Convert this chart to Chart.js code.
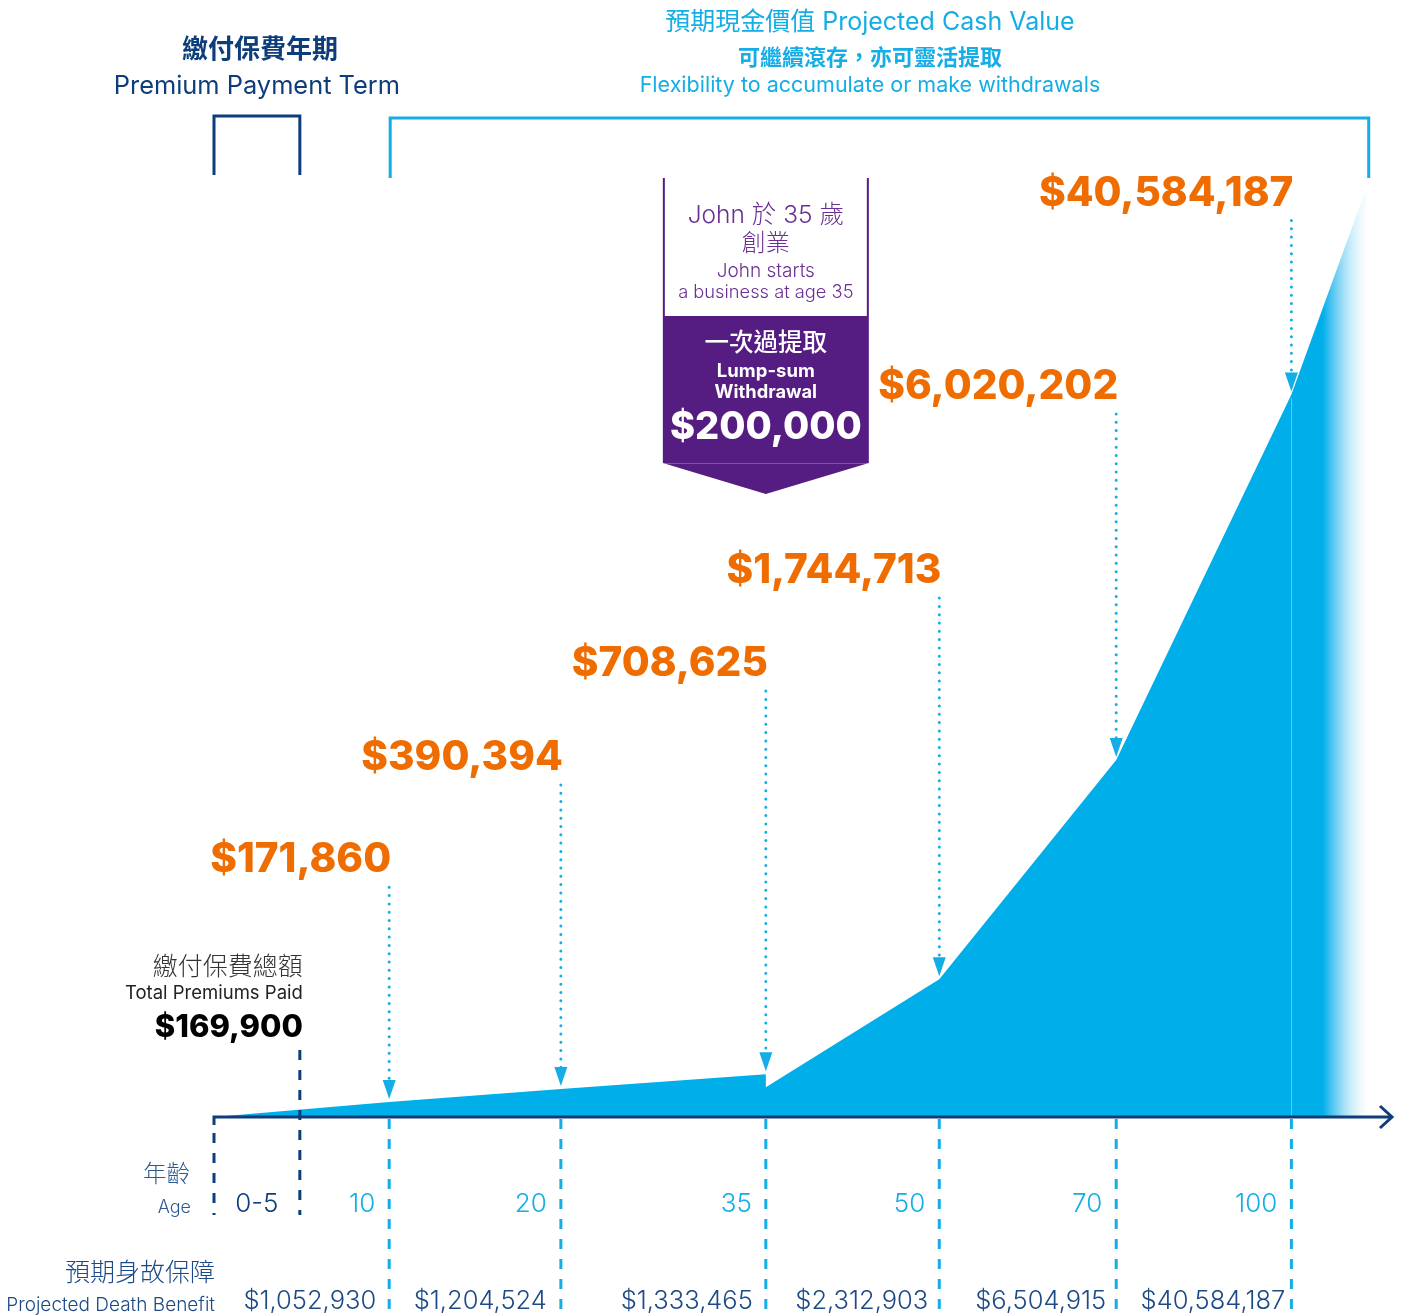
<!DOCTYPE html>
<html>
<head>
<meta charset="utf-8">
<script src="https://cdn.jsdelivr.net/npm/chart.js@4"></script>
<style>
  body { margin: 0; background: #fff; overflow: hidden; }
  canvas { display: block; }
</style>
</head>
<body>
<canvas id="myChart" width="1405" height="1315"></canvas>
<script>
// ages on the x axis and where they sit (the axis is not to scale)
const ages = [0, 5, 10, 20, 35, 50, 70, 100];
const ageSlots = [0, 0.49, 1, 1.98, 3.15, 4.14, 5.15, 6.15];
const ageLabels = ['0-5', '10', '20', '35', '50', '70', '100'];

// projected cash value at ages 10..100
const cashValues = [171860, 390394, 708625, 1744713, 6020202, 40584187];
// projected death benefit, one per age column
const deathBenefits = [1052930, 1204524, 1333465, 2312903, 6504915, 40584187];
const totalPremiums = 169900;
const withdrawalAmount = 200000;
const withdrawalAge = 35;

// drawn height of the cash value curve (% of plot) at ages 0,10,20,35,50,70,100
const curveHeights = [0, 1.6, 3.0, 4.6, 14.8, 38.4, 77.7];
const heightAfterWithdrawal = 3.2;
const curveEnd = { x: 6.58, y: 100 };

const NAVY = '#0e3d7b';
const BLUE = '#14ade6';
const AREA = '#00afea';
const ORANGE = '#ef6d00';
const PURPLE = '#551c82';
const SANS = 'Inter, "Noto Sans CJK TC", sans-serif';

const slotOf = age => ageSlots[ages.indexOf(age)];
const fmt = n => '$' + n.toLocaleString('en-US');

// build the curve points
const curveAges = [0, 10, 20, 35, 50, 70, 100];
const curvePoints = [];
curveAges.forEach((age, i) => {
  curvePoints.push({ x: slotOf(age), y: curveHeights[i] });
  if (age === withdrawalAge) {
    curvePoints.push({ x: slotOf(age), y: heightAfterWithdrawal });
  }
});
curvePoints.push(curveEnd);

// where the orange callouts sit (y units) - layout only
const calloutLevels = [27.6, 38.6, 48.7, 58.7, 78.5, 99.3];

function text(ctx, str, x, y, font, color, align) {
  ctx.font = font;
  ctx.fillStyle = color;
  ctx.textAlign = align || 'left';
  ctx.textBaseline = 'middle';
  ctx.fillText(str, x, y);
}

function vline(ctx, x, y1, y2, color, width, dash, cap) {
  ctx.save();
  ctx.strokeStyle = color;
  ctx.lineWidth = width;
  ctx.setLineDash(dash || []);
  ctx.lineCap = cap || 'butt';
  ctx.beginPath();
  ctx.moveTo(x, y1);
  ctx.lineTo(x, y2);
  ctx.stroke();
  ctx.restore();
}

const decorations = {
  id: 'decorations',
  afterDatasetsDraw(chart) {
    const ctx = chart.ctx;
    const xs = chart.scales.x, ys = chart.scales.y;
    const X = v => xs.getPixelForValue(v);
    const Y = v => ys.getPixelForValue(v);
    const base = Y(0);
    const bottom = chart.height;

    ctx.save();

    // faint line inside the area at age 100
    vline(ctx, Math.round(X(slotOf(100))) + 0.5, Y(curveHeights[6]) + 4, base, 'rgba(255,255,255,0.35)', 1);

    // axis with arrow
    ctx.strokeStyle = NAVY;
    ctx.lineWidth = 3;
    ctx.beginPath();
    ctx.moveTo(X(0), base + 8);
    ctx.lineTo(X(0), base);
    ctx.lineTo(chart.chartArea.right - 1, base);
    ctx.stroke();
    ctx.beginPath();
    ctx.moveTo(chart.chartArea.right - 13, base - 11);
    ctx.lineTo(chart.chartArea.right - 1, base);
    ctx.lineTo(chart.chartArea.right - 13, base + 11);
    ctx.stroke();

    // dark dashed lines for 0 and 5
    vline(ctx, X(0), base + 16, base + 98, NAVY, 3, [10, 10]);
    vline(ctx, X(slotOf(5)), base - 67, base + 98, NAVY, 3, [10, 10]);

    // light dashed guides below the axis
    [10, 20, 35, 50, 70, 100].forEach(age => {
      vline(ctx, X(slotOf(age)), base + 2, bottom, BLUE, 3, [10, 10]);
    });

    // age labels and death benefits
    const benefitGap = [13, 14, 13, 11, 10, 6];
    text(ctx, ageLabels[0], (X(0) + X(slotOf(5))) / 2, base + 87, '300 26px ' + SANS, NAVY, 'center');
    [10, 20, 35, 50, 70, 100].forEach((age, i) => {
      text(ctx, ageLabels[i + 1], X(slotOf(age)) - 14, base + 87, '300 26px ' + SANS, BLUE, 'right');
      text(ctx, fmt(deathBenefits[i]), X(slotOf(age)) - benefitGap[i], base + 184, '300 25.5px ' + SANS, '#1c4a86', 'right');
    });
    text(ctx, '年齡', 190, base + 58, '300 23.5px ' + SANS, '#2a5a92', 'right');
    text(ctx, 'Age', 191, base + 91, '300 18px ' + SANS, '#2a5a92', 'right');
    text(ctx, '預期身故保障', 215, base + 156, '300 25px ' + SANS, '#1c4a86', 'right');
    text(ctx, 'Projected Death Benefit', 215, base + 188, '300 19px ' + SANS, '#1c4a86', 'right');

    // total premiums
    const px = X(slotOf(5)) + 3;
    text(ctx, '繳付保費總額', px, base - 150, '300 25px ' + SANS, '#333', 'right');
    text(ctx, 'Total Premiums Paid', px, base - 124, '18.5px ' + SANS, '#222', 'right');
    text(ctx, fmt(totalPremiums), px, base - 89, '800 31px ' + SANS, '#000', 'right');

    // orange callouts with dotted arrows
    [10, 20, 35, 50, 70, 100].forEach((age, i) => {
      const x = X(slotOf(age));
      const ly = Y(calloutLevels[i]);
      text(ctx, fmt(cashValues[i]), x + 2, ly, '800 40.5px ' + SANS, ORANGE, 'right');
      const tip = Y(curveHeights[i + 1]) - 3;
      vline(ctx, x, ly + 27, tip - 16, BLUE, 3, [0, 8.3], 'round');
      ctx.fillStyle = BLUE;
      ctx.beginPath();
      ctx.moveTo(x - 6.5, tip - 19);
      ctx.lineTo(x + 6.5, tip - 19);
      ctx.lineTo(x, tip);
      ctx.closePath();
      ctx.fill();
    });

    // brackets
    ctx.lineWidth = 3;
    ctx.strokeStyle = NAVY;
    ctx.beginPath();
    ctx.moveTo(X(0), 175);
    ctx.lineTo(X(0), 116);
    ctx.lineTo(X(slotOf(5)), 116);
    ctx.lineTo(X(slotOf(5)), 175);
    ctx.stroke();
    ctx.strokeStyle = BLUE;
    ctx.beginPath();
    ctx.moveTo(X(slotOf(10)) + 1, 178);
    ctx.lineTo(X(slotOf(10)) + 1, 118);
    ctx.lineTo(X(curveEnd.x) + 2, 118);
    ctx.lineTo(X(curveEnd.x) + 2, 178);
    ctx.stroke();

    // headers
    const lc = (X(0) + X(slotOf(5))) / 2;
    text(ctx, '繳付保費年期', lc + 3, 50, 'bold 26px ' + SANS, NAVY, 'center');
    text(ctx, 'Premium Payment Term', lc, 86, '25.4px ' + SANS, NAVY, 'center');
    const rc = (X(slotOf(10)) + X(curveEnd.x)) / 2 - 8;
    text(ctx, '預期現金價值 Projected Cash Value', rc, 22, '25px ' + SANS, BLUE, 'center');
    text(ctx, '可繼續滾存，亦可靈活提取', rc, 58, 'bold 22px ' + SANS, BLUE, 'center');
    text(ctx, 'Flexibility to accumulate or make withdrawals', rc, 86, '21.5px ' + SANS, BLUE, 'center');

    // withdrawal tag at age 35
    const cx = X(slotOf(withdrawalAge));
    const l = cx - 103, r = cx + 103;
    ctx.fillStyle = PURPLE;
    ctx.beginPath();
    ctx.moveTo(l, 316);
    ctx.lineTo(r, 316);
    ctx.lineTo(r, 463);
    ctx.lineTo(cx, 494);
    ctx.lineTo(l, 463);
    ctx.closePath();
    ctx.fill();
    ctx.strokeStyle = 'rgba(255,255,255,0.25)';
    ctx.lineWidth = 1;
    ctx.beginPath();
    ctx.moveTo(l, 463.5);
    ctx.lineTo(r, 463.5);
    ctx.stroke();
    ctx.strokeStyle = PURPLE;
    ctx.lineWidth = 2;
    ctx.beginPath();
    ctx.moveTo(l + 1, 178);
    ctx.lineTo(l + 1, 316);
    ctx.moveTo(r - 1, 178);
    ctx.lineTo(r - 1, 316);
    ctx.stroke();
    const lp = '#6a2f93';
    text(ctx, 'John 於 35 歲', cx, 216, '300 24.5px ' + SANS, lp, 'center');
    text(ctx, '創業', cx, 244, '300 24px ' + SANS, lp, 'center');
    text(ctx, 'John starts', cx, 271, '300 19px ' + SANS, lp, 'center');
    text(ctx, 'a business at age 35', cx, 293, '300 18.3px ' + SANS, lp, 'center');
    text(ctx, '一次過提取', cx, 344, '500 24.5px ' + SANS, '#fff', 'center');
    text(ctx, 'Lump-sum', cx, 371, 'bold 18.5px ' + SANS, '#fff', 'center');
    text(ctx, 'Withdrawal', cx, 393, 'bold 18.3px ' + SANS, '#fff', 'center');
    text(ctx, fmt(withdrawalAmount), cx, 428, '800 38px ' + SANS, '#fff', 'center');

    ctx.restore();
  }
};

const ctx = document.getElementById('myChart').getContext('2d');
const myChart = new Chart(ctx, {
  type: 'line',
  data: {
    datasets: [{
      label: 'Projected Cash Value',
      data: curvePoints,
      fill: 'origin',
      borderWidth: 0,
      pointRadius: 0,
      tension: 0,
      backgroundColor: (context) => {
        const chart = context.chart;
        if (!chart.chartArea) return AREA;
        const xs = chart.scales.x;
        const x0 = xs.getPixelForValue(6.33);
        const x1 = xs.getPixelForValue(6.62);
        const g = chart.ctx.createLinearGradient(x0, 0, x1, 0);
        g.addColorStop(0, AREA);
        g.addColorStop(0.25, 'rgba(80,195,240,0.85)');
        g.addColorStop(1, 'rgba(255,255,255,0)');
        return g;
      }
    }]
  },
  options: {
    responsive: false,
    devicePixelRatio: 1,
    animation: false,
    layout: { padding: { left: 214, right: 12, top: 187, bottom: 198 } },
    scales: {
      x: { type: 'linear', display: false, min: 0, max: 6.73 },
      y: { display: false, min: 0, max: 100 }
    },
    plugins: {
      legend: { display: false },
      tooltip: { enabled: false }
    }
  },
  plugins: [decorations]
});
</script>
</body>
</html>
